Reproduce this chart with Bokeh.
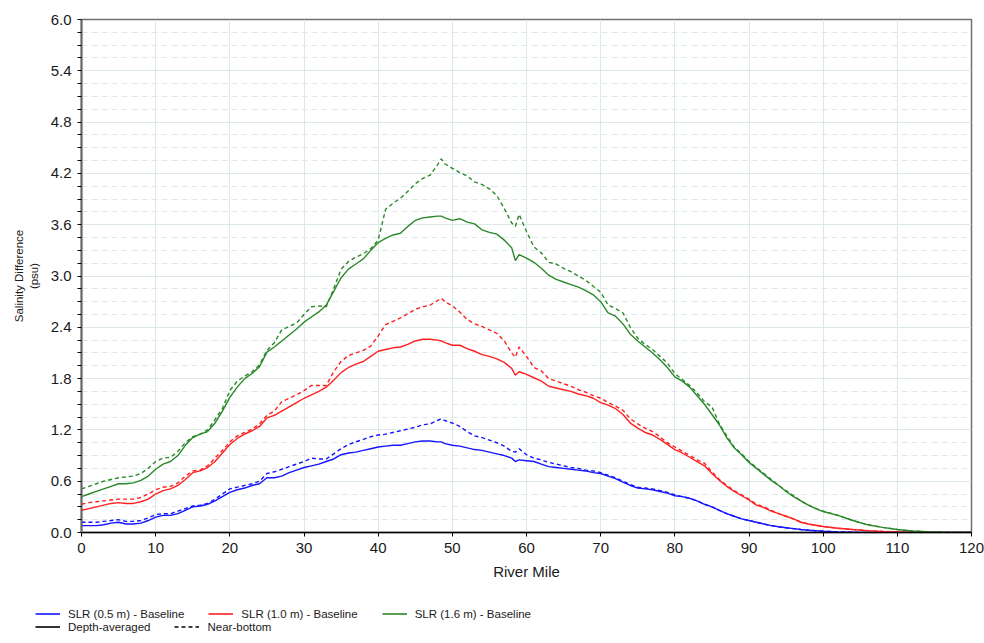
from bokeh.plotting import figure
from bokeh.models import (Legend, LegendItem, FixedTicker, Range1d,
                          PrintfTickFormatter)
from bokeh.layouts import column
from bokeh.embed import file_html
from bokeh.resources import INLINE

# ---------------- data ----------------
river_mile = (list(range(0, 49)) + [48.5] + list(range(49, 59)) + [58.5]
              + list(range(59, 101)) + list(range(102, 121, 2)))

slr16_depth_avg = [
    0.42, 0.45, 0.48, 0.51, 0.54, 0.57, 0.57, 0.58, 0.61, 0.66,
    0.74, 0.80, 0.83, 0.90, 1.02, 1.11, 1.15, 1.18, 1.28, 1.42,
    1.58, 1.70, 1.80, 1.86, 1.94, 2.11, 2.17, 2.24, 2.31, 2.38,
    2.46, 2.52, 2.58, 2.66, 2.82, 2.98, 3.08, 3.14, 3.20, 3.30,
    3.39, 3.44, 3.48, 3.50, 3.58, 3.65, 3.68, 3.69, 3.70,
    3.70,
    3.68, 3.65, 3.67, 3.63, 3.61, 3.54, 3.51, 3.49, 3.42, 3.33,
    3.18,
    3.25, 3.21, 3.16, 3.09, 3.01, 2.96, 2.93, 2.90, 2.87, 2.83,
    2.78, 2.70, 2.57, 2.53, 2.44, 2.32, 2.24, 2.17, 2.10, 2.02,
    1.93, 1.82, 1.77, 1.70, 1.60, 1.50, 1.38, 1.26, 1.11, 0.99,
    0.91, 0.82, 0.75, 0.68, 0.61, 0.55, 0.48, 0.42, 0.37, 0.32,
    0.28, 0.245,
    0.20, 0.14, 0.09, 0.06, 0.035, 0.017, 0.008, 0.004, 0.001, 0.0,
]
slr16_near_bottom = [
    0.51, 0.54, 0.57, 0.60, 0.62, 0.64, 0.65, 0.66, 0.69, 0.75,
    0.83, 0.87, 0.88, 0.95, 1.05, 1.12, 1.15, 1.20, 1.32, 1.45,
    1.66, 1.77, 1.83, 1.88, 1.96, 2.13, 2.22, 2.37, 2.41, 2.45,
    2.55, 2.64, 2.65, 2.64, 2.85, 3.08, 3.17, 3.22, 3.26, 3.32,
    3.42, 3.78, 3.85, 3.91, 3.99, 4.08, 4.14, 4.18, 4.30,
    4.37,
    4.31, 4.26, 4.21, 4.17, 4.10, 4.07, 4.02, 3.94, 3.79, 3.62,
    3.58,
    3.72, 3.52, 3.34, 3.27, 3.16, 3.14, 3.09, 3.05, 3.00, 2.95,
    2.88, 2.81, 2.66, 2.62, 2.57, 2.40, 2.27, 2.20, 2.14, 2.06,
    1.98, 1.86, 1.79, 1.72, 1.63, 1.53, 1.47, 1.27, 1.13, 1.00,
    0.92, 0.83, 0.76, 0.69, 0.62, 0.55, 0.49, 0.43, 0.37, 0.32,
    0.28, 0.25,
    0.20, 0.14, 0.09, 0.06, 0.035, 0.017, 0.008, 0.004, 0.001, 0.0,
]
slr10_depth_avg = [
    0.26, 0.28, 0.30, 0.32, 0.34, 0.35, 0.34, 0.34, 0.36, 0.39,
    0.45, 0.49, 0.51, 0.55, 0.62, 0.70, 0.72, 0.76, 0.83, 0.93,
    1.03, 1.10, 1.15, 1.19, 1.24, 1.34, 1.37, 1.42, 1.47, 1.52,
    1.57, 1.61, 1.65, 1.70, 1.78, 1.87, 1.93, 1.97, 2.00, 2.06,
    2.12, 2.14, 2.16, 2.17, 2.20, 2.24, 2.26, 2.26, 2.25,
    2.24,
    2.22, 2.19, 2.19, 2.15, 2.12, 2.08, 2.06, 2.03, 1.99, 1.92,
    1.84,
    1.88, 1.85, 1.81, 1.77, 1.71, 1.69, 1.67, 1.65, 1.62, 1.60,
    1.57, 1.52, 1.49, 1.45, 1.38, 1.28, 1.22, 1.17, 1.14, 1.09,
    1.03, 0.97, 0.93, 0.88, 0.83, 0.78, 0.69, 0.61, 0.54, 0.48,
    0.43, 0.38, 0.32, 0.29, 0.25, 0.22, 0.19, 0.16, 0.12, 0.10,
    0.085, 0.07,
    0.05, 0.035, 0.022, 0.013, 0.007, 0.003, 0.001, 0.0, 0.0, 0.0,
]
slr10_near_bottom = [
    0.33, 0.35, 0.36, 0.37, 0.38, 0.39, 0.39, 0.39, 0.41, 0.45,
    0.50, 0.53, 0.54, 0.58, 0.66, 0.72, 0.73, 0.78, 0.87, 0.96,
    1.06, 1.13, 1.17, 1.21, 1.27, 1.37, 1.42, 1.53, 1.57, 1.61,
    1.66, 1.72, 1.72, 1.72, 1.88, 2.00, 2.07, 2.10, 2.13, 2.18,
    2.30, 2.43, 2.47, 2.51, 2.56, 2.61, 2.64, 2.66, 2.71,
    2.74,
    2.70, 2.65, 2.58, 2.49, 2.44, 2.41, 2.37, 2.33, 2.24, 2.10,
    2.05,
    2.17, 2.06, 1.93, 1.89, 1.80, 1.77, 1.74, 1.71, 1.67, 1.64,
    1.60, 1.57, 1.52, 1.48, 1.43, 1.33, 1.27, 1.22, 1.18, 1.12,
    1.05, 1.00, 0.95, 0.90, 0.85, 0.81, 0.71, 0.62, 0.55, 0.49,
    0.44, 0.39, 0.33, 0.30, 0.26, 0.22, 0.19, 0.16, 0.12, 0.10,
    0.085, 0.07,
    0.05, 0.035, 0.022, 0.013, 0.007, 0.003, 0.001, 0.0, 0.0, 0.0,
]
slr05_depth_avg = [
    0.08, 0.08, 0.08, 0.09, 0.11, 0.12, 0.10, 0.10, 0.11, 0.14,
    0.18, 0.20, 0.20, 0.22, 0.26, 0.30, 0.31, 0.33, 0.37, 0.42,
    0.47, 0.50, 0.52, 0.55, 0.57, 0.64, 0.64, 0.66, 0.70, 0.73,
    0.76, 0.78, 0.80, 0.83, 0.86, 0.91, 0.93, 0.94, 0.96, 0.98,
    1.00, 1.01, 1.02, 1.02, 1.04, 1.06, 1.07, 1.07, 1.06,
    1.06,
    1.04, 1.02, 1.01, 0.99, 0.97, 0.96, 0.94, 0.92, 0.90, 0.87,
    0.83,
    0.85, 0.84, 0.83, 0.80, 0.77, 0.76, 0.75, 0.74, 0.73, 0.72,
    0.70, 0.69, 0.66, 0.63, 0.59, 0.55, 0.52, 0.51, 0.50, 0.48,
    0.46, 0.43, 0.42, 0.40, 0.37, 0.33, 0.30, 0.26, 0.22, 0.19,
    0.16, 0.14, 0.12, 0.10, 0.08, 0.067, 0.055, 0.045, 0.035, 0.027,
    0.02, 0.015,
    0.007, 0.003, 0.001, 0.0, 0.0, 0.0, 0.0, 0.0, 0.0, 0.0,
]
slr05_near_bottom = [
    0.12, 0.12, 0.12, 0.13, 0.14, 0.15, 0.13, 0.13, 0.14, 0.17,
    0.21, 0.22, 0.22, 0.25, 0.28, 0.31, 0.32, 0.34, 0.39, 0.45,
    0.51, 0.53, 0.55, 0.57, 0.60, 0.69, 0.71, 0.74, 0.77, 0.80,
    0.83, 0.87, 0.86, 0.86, 0.92, 0.98, 1.03, 1.06, 1.09, 1.12,
    1.14, 1.15, 1.17, 1.19, 1.21, 1.23, 1.26, 1.27, 1.31,
    1.33,
    1.31, 1.28, 1.24, 1.18, 1.13, 1.11, 1.08, 1.05, 1.01, 0.95,
    0.94,
    0.98, 0.91, 0.87, 0.85, 0.82, 0.80, 0.78, 0.76, 0.75, 0.73,
    0.72, 0.70, 0.67, 0.64, 0.60, 0.56, 0.53, 0.52, 0.51, 0.49,
    0.47, 0.44, 0.42, 0.40, 0.37, 0.33, 0.30, 0.26, 0.22, 0.19,
    0.16, 0.14, 0.12, 0.10, 0.08, 0.067, 0.055, 0.045, 0.035, 0.027,
    0.02, 0.015,
    0.007, 0.003, 0.001, 0.0, 0.0, 0.0, 0.0, 0.0, 0.0, 0.0,
]

series_labels = ["SLR (0.5 m) - Baseline", "SLR (1.0 m) - Baseline",
                 "SLR (1.6 m) - Baseline"]
style_labels = ["Depth-averaged", "Near-bottom"]
x_ticks = [0, 10, 20, 30, 40, 50, 60, 70, 80, 90, 100, 110, 120]
y_ticks = [0.0, 0.6, 1.2, 1.8, 2.4, 3.0, 3.6, 4.2, 4.8, 5.4, 6.0]

# ---------------- main figure ----------------
FONT = "Liberation Sans"
GRID = "#dde9e9"
colors = ["#1414ff", "#ff2020", "#2a882a"]
DASH = "4 3"

p = figure(width=984, height=585, x_range=Range1d(0, 120), y_range=Range1d(0, 6),
           output_backend="svg", toolbar_location=None,
           min_border_left=81, min_border_right=13, min_border_top=19,
           min_border_bottom=53)
p.outline_line_color = "#707070"
p.outline_line_width = 1.5

depth = [slr05_depth_avg, slr10_depth_avg, slr16_depth_avg]
bottom = [slr05_near_bottom, slr10_near_bottom, slr16_near_bottom]
for c, d, b in zip(colors, depth, bottom):
    p.line(river_mile, b, line_color=c, line_width=1.4, line_dash=DASH)
    p.line(river_mile, d, line_color=c, line_width=1.4)

minor = []
for i in range(len(y_ticks) - 1):
    a, b_ = y_ticks[i], y_ticks[i + 1]
    step = (b_ - a) / 4
    minor += [a + step, a + 2 * step, a + 3 * step]
p.yaxis.ticker = FixedTicker(ticks=y_ticks, minor_ticks=minor)
p.xaxis.ticker = FixedTicker(ticks=x_ticks)
p.yaxis.formatter = PrintfTickFormatter(format="%.1f")

for ax in (p.xaxis[0], p.yaxis[0]):
    ax.major_label_text_font = FONT
    ax.major_label_text_font_size = "15px"
    ax.major_label_text_color = "#1a1a1a"
    ax.axis_label_text_font = FONT
    ax.axis_label_text_font_style = "normal"
    ax.axis_label_text_color = "#1a1a1a"
    ax.major_tick_in = 0
    ax.major_tick_out = 4
    ax.minor_tick_in = 0
    ax.minor_tick_out = 4
    ax.major_tick_line_color = "black"
    ax.minor_tick_line_color = "black"
    ax.major_label_standoff = 6

p.xaxis.minor_tick_line_color = None
p.xaxis.axis_line_color = "black"
p.xaxis.axis_line_width = 1.5
p.xaxis.axis_label = "River Mile"
p.xaxis.axis_label_text_font_size = "15px"
p.xaxis.axis_label_standoff = 7

p.yaxis.axis_line_color = "#666666"
p.yaxis.axis_line_width = 2
p.yaxis.axis_label = "Salinity Difference\n(psu)"
p.yaxis.axis_label_text_font_size = "11.5px"
p.yaxis.axis_label_standoff = 8

p.xgrid.ticker = FixedTicker(ticks=x_ticks)
p.xgrid.grid_line_color = GRID
p.ygrid.grid_line_color = GRID
p.ygrid.minor_grid_line_color = GRID
p.ygrid.minor_grid_line_dash = "6 4"

# ---------------- legend strip ----------------
LH = 58
q = figure(width=984, height=LH, x_range=Range1d(0, 1), y_range=Range1d(0, 1),
           output_backend="svg", toolbar_location=None,
           x_axis_type=None, y_axis_type=None,
           min_border_left=0, min_border_right=0, min_border_top=0,
           min_border_bottom=0)
q.outline_line_color = None
q.grid.visible = False

off = [-5, -4]  # outside the strip's ranges: only the legend glyphs show
series_r = [q.line(off, off, line_color=c, line_width=1.6) for c in colors]
style_r = [q.line(off, off, line_color="black", line_width=1.6),
           q.line(off, off, line_color="black", line_width=1.6, line_dash=DASH)]

def make_legend(items, loc):
    return Legend(items=items, orientation="horizontal", location=loc,
                  border_line_color=None, background_fill_alpha=0,
                  label_text_font=FONT, label_text_font_size="11.5px",
                  label_text_color="#1a1a1a",
                  glyph_width=25, glyph_height=13, label_height=13,
                  label_standoff=8, spacing=24, padding=0, margin=0)

q.add_layout(make_legend([LegendItem(label=l, renderers=[r])
                          for l, r in zip(series_labels, series_r)], (35, 23)))
q.add_layout(make_legend([LegendItem(label=l, renderers=[r])
                          for l, r in zip(style_labels, style_r)], (35, 10)))

open("out.html", "w").write(file_html(column(p, column(q)), INLINE))
